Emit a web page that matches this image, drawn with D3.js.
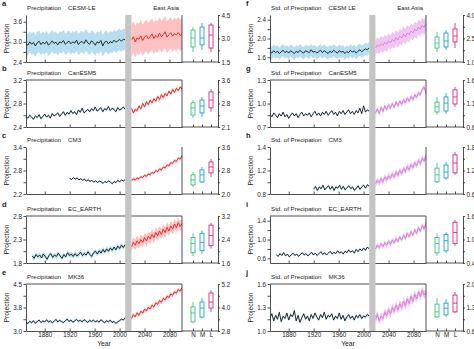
<!DOCTYPE html>
<html>
<head>
<meta charset="utf-8">
<script src="https://cdn.jsdelivr.net/npm/d3@7"></script>
<style>
body { margin: 0; background: #fff; }
svg text { font-family: "Liberation Sans", Arial, sans-serif; fill: #222; }
.axis text { font-size: 6.3px; }
.axis path, .axis line { stroke: #222; stroke-width: 0.8; }
</style>
</head>
<body>
<svg id="chart" width="474" height="349"></svg>
<script>
// ---- data ----
var yearTicks = [1880, 1920, 1960, 2000, 2040, 2080];
var boxCats = ["N", "M", "L"];
var lettersP = ["a", "b", "c", "d", "e"];
var lettersS = ["f", "g", "h", "i", "j"];
var modelsP = ["CESM-LE", "CanESM5", "CM3", "EC_EARTH", "MK36"];
var modelsS = ["CESM LE", "CanESM5", "CM3", "EC_EARTH", "MK36"];
var histStart = [1850, 1850, 1920, 1860, 1850];
var histEnd = 2009, futStart = 2019, futEnd = 2100, gapYears = [2009, 2019];

var histP = [
  [2.95,2.90,3.00,2.93,2.98,2.88,2.97,3.02,2.92,2.99,2.94,3.01,2.90,2.96,3.03,2.95,2.99,2.91,3.00,2.97,3.04,2.93,2.98,3.02,2.94,3.00,2.96,3.05,2.92,2.99,3.01,2.95,3.06,2.97,2.93,3.03,2.98,2.90,3.00,2.96,3.04,2.88,2.99,3.02,2.94,3.01,2.97,3.05,2.99,3.03,3.07,3.02,3.08,3.06],
  [2.58,2.55,2.60,2.57,2.53,2.59,2.56,2.61,2.54,2.58,2.62,2.57,2.60,2.55,2.63,2.59,2.61,2.64,2.58,2.62,2.66,2.60,2.65,2.62,2.68,2.63,2.66,2.61,2.69,2.65,2.72,2.64,2.67,2.70,2.66,2.71,2.68,2.74,2.67,2.70,2.73,2.66,2.71,2.69,2.75,2.68,2.72,2.70,2.66,2.73,2.69,2.71,2.74,2.70],
  [2.60,2.57,2.62,2.58,2.61,2.56,2.59,2.55,2.58,2.53,2.56,2.52,2.55,2.50,2.54,2.49,2.53,2.51,2.47,2.52,2.49,2.54,2.50,2.46,2.52,2.49,2.55,2.51,2.56,2.53,2.57],
  [1.95,1.90,1.98,1.93,1.97,1.91,1.99,1.94,1.88,1.96,2.00,1.92,1.97,1.94,2.01,1.95,1.90,1.98,1.93,2.02,1.96,1.99,1.94,2.00,1.95,1.98,2.03,1.96,2.00,1.97,2.04,1.98,1.94,2.02,2.05,1.99,2.06,2.01,2.09,2.03,2.10,2.05,2.12,2.07,2.14,2.08,2.16,2.11,2.18,2.13,2.19],
  [3.28,3.24,3.31,3.26,3.33,3.25,3.30,3.35,3.27,3.32,3.29,3.36,3.28,3.33,3.26,3.31,3.37,3.29,3.34,3.30,3.27,3.33,3.38,3.30,3.35,3.28,3.32,3.37,3.31,3.34,3.29,3.36,3.32,3.27,3.34,3.30,3.35,3.29,3.33,3.28,3.36,3.31,3.26,3.33,3.29,3.35,3.27,3.31,3.24,3.29,3.33,3.38,3.35,3.42]
];
var futP = [
  [3.05,3.15,3.00,3.12,3.08,3.18,3.04,3.14,3.20,3.09,3.16,3.24,3.10,3.19,3.13,3.26,3.15,3.22,3.30,3.14,3.21,3.27,3.17,3.25,3.20,3.28,3.19,3.24],
  [2.72,2.64,2.70,2.68,2.76,2.71,2.80,2.74,2.83,2.78,2.86,2.81,2.88,2.84,2.92,2.87,2.95,2.90,2.97,2.93,3.01,2.96,3.04,2.99,3.06,3.02,3.08,3.05],
  [2.55,2.58,2.56,2.61,2.59,2.64,2.62,2.68,2.65,2.71,2.69,2.75,2.73,2.80,2.77,2.84,2.82,2.89,2.87,2.94,2.92,3.00,2.98,3.06,3.03,3.12,3.09,3.18],
  [2.15,2.24,2.18,2.27,2.21,2.30,2.24,2.34,2.27,2.37,2.31,2.41,2.34,2.45,2.38,2.48,2.41,2.52,2.45,2.56,2.48,2.59,2.52,2.63,2.55,2.66,2.58,2.64],
  [3.40,3.52,3.45,3.58,3.50,3.63,3.57,3.70,3.64,3.76,3.70,3.83,3.77,3.90,3.85,3.97,3.92,4.04,3.99,4.11,4.07,4.18,4.14,4.25,4.21,4.32,4.28,4.38]
];
var histS = [
  [1.72,1.69,1.74,1.70,1.73,1.68,1.72,1.75,1.70,1.73,1.69,1.74,1.71,1.68,1.73,1.70,1.75,1.71,1.69,1.74,1.72,1.70,1.76,1.71,1.73,1.69,1.72,1.75,1.70,1.74,1.71,1.68,1.73,1.70,1.75,1.72,1.69,1.74,1.71,1.73,1.68,1.72,1.70,1.75,1.71,1.74,1.69,1.73,1.76,1.72,1.75,1.78,1.76,1.80],
  [0.86,0.83,0.88,0.85,0.82,0.87,0.84,0.89,0.83,0.86,0.81,0.85,0.88,0.84,0.87,0.82,0.86,0.89,0.84,0.87,0.85,0.88,0.83,0.87,0.90,0.85,0.88,0.84,0.89,0.86,0.90,0.85,0.88,0.91,0.86,0.89,0.84,0.90,0.87,0.91,0.86,0.89,0.92,0.87,0.90,0.86,0.91,0.88,0.94,0.87,0.97,0.89,0.92,0.90],
  [0.88,0.93,0.86,0.92,0.89,0.95,0.87,0.91,0.94,0.88,0.93,0.86,0.92,0.90,0.95,0.88,0.93,0.87,0.91,0.94,0.89,0.92,0.86,0.90,0.94,0.88,0.92,0.95,0.90,0.96,0.93],
  [0.68,0.64,0.70,0.66,0.72,0.65,0.69,0.63,0.67,0.71,0.66,0.69,0.64,0.68,0.72,0.67,0.70,0.65,0.69,0.73,0.67,0.71,0.66,0.70,0.74,0.68,0.72,0.67,0.71,0.75,0.69,0.73,0.70,0.76,0.71,0.74,0.69,0.75,0.72,0.78,0.73,0.76,0.71,0.79,0.74,0.80,0.76,0.82,0.77,0.84,0.80],
  [1.17,1.22,1.13,1.20,1.15,1.24,1.12,1.19,1.16,1.23,1.14,1.21,1.18,1.26,1.13,1.20,1.11,1.17,1.22,1.15,1.19,1.13,1.21,1.16,1.23,1.18,1.14,1.21,1.17,1.24,1.15,1.20,1.18,1.22,1.14,1.19,1.16,1.23,1.15,1.20,1.13,1.18,1.21,1.16,1.19,1.14,1.20,1.17,1.21,1.16,1.19,1.18,1.21,1.19]
];
var futS = [
  [1.80,1.86,1.83,1.89,1.85,1.92,1.88,1.95,1.91,1.98,1.94,2.02,1.97,2.05,2.01,2.09,2.04,2.12,2.08,2.16,2.12,2.20,2.16,2.24,2.20,2.28,2.24,2.32],
  [0.88,0.93,0.87,0.95,0.90,0.97,0.92,0.98,0.94,1.00,0.95,1.02,0.97,1.03,0.99,1.05,1.01,1.07,1.03,1.09,1.05,1.11,1.08,1.14,1.11,1.18,1.21,1.13],
  [0.97,1.03,0.99,1.06,1.01,1.09,1.04,1.11,1.07,1.14,1.09,1.17,1.12,1.20,1.15,1.23,1.18,1.27,1.21,1.30,1.25,1.33,1.28,1.37,1.32,1.41,1.36,1.45],
  [0.80,0.88,0.83,0.91,0.85,0.93,0.88,0.96,0.90,0.99,0.93,1.02,0.96,1.05,0.99,1.09,1.02,1.13,1.06,1.17,1.09,1.21,1.13,1.26,1.17,1.31,1.22,1.36],
  [1.15,1.21,1.13,1.19,1.16,1.24,1.20,1.27,1.22,1.30,1.25,1.33,1.27,1.35,1.30,1.38,1.32,1.41,1.35,1.44,1.38,1.47,1.41,1.50,1.44,1.52,1.46,1.49]
];
// ensemble spread (half width) for historical / future
var spreadP = [[0.32, 0.47], [0.02, 0.03], [0.02, 0.04], [0.05, 0.11], [0.04, 0.06]];
var spreadS = [[0.13, 0.16], [0.01, 0.03], [0.02, 0.05], [0.02, 0.05], [0.02, 0.05]];

var yDomP = [[2.4, 3.8], [2.4, 3.2], [2.2, 3.4], [1.8, 2.8], [3.0, 4.5]];
var yTickP = [[2.4, 3.0, 3.6], [2.4, 2.8, 3.2], [2.2, 2.8, 3.4], [1.8, 2.3, 2.8], [3.0, 3.75, 4.5]];
var yLabP = [["2.4", "3.0", "3.6"], ["2.4", "2.8", "3.2"], ["2.2", "2.8", "3.4"], ["1.8", "2.3", "2.8"], ["3.0", "3.8", "4.5"]];
var yDomS = [[1.5, 2.5], [0.7, 1.3], [0.8, 1.6], [0.5, 1.5], [1.0, 1.6]];
var yTickS = [[1.6, 2.0, 2.4], [0.7, 1.0, 1.3], [0.8, 1.2, 1.6], [0.6, 1.0, 1.4], [1.0, 1.3, 1.6]];
var yLabS = [["1.6", "2.0", "2.4"], ["0.7", "1.0", "1.3"], ["0.8", "1.2", "1.4"], ["0.6", "1.0", "1.4"], ["1.0", "1.3", "1.6"]];

var rDomP = [[1.5, 4.5], [2.1, 3.6], [2.0, 3.6], [1.6, 3.2], [2.8, 5.2]];
var rLabP = [["1.5", "3.0", "4.5"], ["2.1", "2.8", "3.6"], ["2.0", "2.8", "3.6"], ["1.6", "2.4", "3.2"], ["2.8", "4.0", "5.2"]];
var rDomS = [[1.0, 4.0], [0.6, 1.6], [0.6, 1.8], [0.4, 1.6], [0.6, 2.0]];
var rLabS = [["1.0", "2.5", "4.0"], ["0.6", "1.1", "1.6"], ["0.6", "1.2", "1.8"], ["0.4", "1.0", "1.6"], ["0.6", "1.3", "2.0"]];

// boxes per panel, order N, M, L: [whisker low, q1, median, q3, whisker high]
var boxP = [
  [[2.14, 2.46, 3.03, 3.54, 3.73], [2.27, 2.59, 3.03, 3.73, 3.99], [2.14, 2.39, 3.22, 3.86, 3.99]],
  [[2.39, 2.48, 2.71, 2.87, 2.96], [2.42, 2.55, 2.77, 2.96, 3.06], [2.58, 2.71, 2.96, 3.22, 3.31]],
  [[2.24, 2.31, 2.48, 2.65, 2.75], [2.38, 2.41, 2.65, 2.82, 2.92], [2.58, 2.72, 2.92, 3.09, 3.19]],
  [[1.84, 1.95, 2.26, 2.47, 2.61], [1.91, 2.02, 2.30, 2.61, 2.71], [2.09, 2.19, 2.54, 2.89, 2.96]],
  [[3.21, 3.26, 3.72, 4.03, 4.28], [3.46, 3.51, 3.97, 4.28, 4.48], [3.77, 3.97, 4.28, 4.74, 4.89]]
];
var boxS = [
  [[1.64, 1.89, 2.21, 2.60, 2.91], [1.77, 1.96, 2.34, 2.85, 3.04], [1.89, 2.28, 2.66, 3.11, 3.49]],
  [[0.86, 0.92, 1.03, 1.13, 1.24], [0.88, 0.94, 1.11, 1.24, 1.32], [1.03, 1.09, 1.24, 1.39, 1.45]],
  [[0.88, 0.91, 1.09, 1.26, 1.39], [0.96, 1.01, 1.16, 1.34, 1.42], [1.09, 1.14, 1.39, 1.60, 1.67]],
  [[0.58, 0.66, 0.90, 1.05, 1.16], [0.66, 0.71, 0.97, 1.13, 1.18], [0.84, 0.90, 1.18, 1.44, 1.50]],
  [[0.99, 1.02, 1.17, 1.40, 1.58], [1.02, 1.08, 1.28, 1.43, 1.55], [1.14, 1.17, 1.43, 1.67, 1.76]]
];

// ---- layout ----
var svg = d3.select("#chart");
var cols = [{x0: 26, x1: 182, x2: 218}, {x0: 270, x1: 426, x2: 463}];
var tops = [15, 80, 147, 216, 284], ph = 47;
var framed = ["b", "d", "e", "g", "i", "j"];
var boxColor = {N: "#3cc47c", M: "#1f9fe0", L: "#e0287f"};

var sets = [
  {title: "Precipitation", names: modelsP, letters: lettersP, hist: histP, fut: futP, spread: spreadP,
   yDom: yDomP, yTick: yTickP, yLab: yLabP, rDom: rDomP, rLab: rLabP, boxes: boxP,
   line: "#f01818", band: "#ffc2c2"},
  {title: "Std. of Precipation", names: modelsS, letters: lettersS, hist: histS, fut: futS, spread: spreadS,
   yDom: yDomS, yTick: yTickS, yLab: yLabS, rDom: rDomS, rLab: rLabS, boxes: boxS,
   line: "#d47ad6", band: "#efc6f1"}
];

sets.forEach(function(s, c) {
  var col = cols[c];
  var x = d3.scaleLinear().domain([1850, 2100]).range([col.x0, col.x1]);
  var bx = d3.scalePoint().domain(boxCats).range([col.x1 + 11, col.x1 + 29]);

  s.names.forEach(function(name, i) {
    var top = tops[i], bot = top + ph, last = i === s.names.length - 1;
    var y = d3.scaleLinear().domain(s.yDom[i]).range([bot, top]);
    var yr = d3.scaleLinear().domain(s.rDom[i]).range([bot, top]);
    var g = svg.append("g");
    var clipId = "clip" + s.letters[i];
    g.append("clipPath").attr("id", clipId).append("rect")
      .attr("x", col.x0).attr("y", top).attr("width", col.x1 - col.x0).attr("height", ph);

    function series(vals, t0, t1) {
      return vals.map(function(v, k) {
        return {t: t0 + k * (t1 - t0) / (vals.length - 1), v: v};
      });
    }
    var hist = series(s.hist[i], histStart[i], histEnd);
    var fut = series(s.fut[i], futStart, futEnd);

    var band = function(sp) {
      return d3.area().x(function(d) { return x(d.t); })
        .y0(function(d) { return y(d.v - sp); })
        .y1(function(d) { return y(d.v + sp); });
    };
    var line = d3.line().x(function(d) { return x(d.t); }).y(function(d) { return y(d.v); });

    var data = g.append("g").attr("clip-path", "url(#" + clipId + ")");
    data.append("path").attr("d", band(s.spread[i][0])(hist)).attr("fill", "#b6def0");
    data.append("path").attr("d", band(s.spread[i][1])(fut)).attr("fill", s.band);
    data.append("path").attr("d", line(hist)).attr("fill", "none").attr("stroke", "#151515").attr("stroke-width", 0.9);
    data.append("path").attr("d", line(fut)).attr("fill", "none").attr("stroke", s.line).attr("stroke-width", 0.9);

    // left axis with minor ticks between labelled ones
    var major = s.yTick[i];
    var minor = d3.pairs(major).map(function(p) { return (p[0] + p[1]) / 2; });
    g.append("g").attr("class", "axis").attr("transform", "translate(" + col.x0 + ",0)")
      .call(d3.axisLeft(y).tickValues(major.concat(minor)).tickSizeInner(2.5).tickSizeOuter(0).tickPadding(1.5)
        .tickFormat(function(d) { var k = major.indexOf(d); return k < 0 ? "" : s.yLab[i][k]; }));

    // bottom axis (time)
    g.append("g").attr("class", "axis").attr("transform", "translate(0," + bot + ")")
      .call(d3.axisBottom(x).tickValues(yearTicks).tickSizeInner(-2.5).tickSizeOuter(0).tickPadding(2)
        .tickFormat(last ? d3.format("d") : ""));

    // box panel bottom axis
    g.append("g").attr("class", "axis").attr("transform", "translate(0," + bot + ")")
      .call(d3.axisBottom(bx).tickSizeInner(-2.5).tickSizeOuter(0).tickPadding(2)
        .tickFormat(last ? null : ""))
      .select(".domain").attr("d", "M" + col.x1 + ",0H" + col.x2);

    // right axis of box panel
    var rd = s.rDom[i];
    var rMajor = [rd[0], (rd[0] + rd[1]) / 2, rd[1]];
    var rMinor = d3.pairs(rMajor).map(function(p) { return (p[0] + p[1]) / 2; });
    g.append("g").attr("class", "axis").attr("transform", "translate(" + col.x2 + ",0)")
      .call(d3.axisRight(yr).tickValues(rMajor.concat(rMinor)).tickSizeInner(2).tickSizeOuter(0).tickPadding(1.5)
        .tickFormat(function(d) { var k = rMajor.indexOf(d); return k < 0 ? "" : s.rLab[i][k]; }));

    // plot frame: right edge and optional top edge
    g.append("line").attr("x1", col.x1).attr("x2", col.x1).attr("y1", top).attr("y2", bot)
      .attr("stroke", "#222").attr("stroke-width", 0.8);
    if (framed.indexOf(s.letters[i]) >= 0) {
      g.append("line").attr("x1", col.x0).attr("x2", col.x1).attr("y1", top).attr("y2", top)
        .attr("stroke", "#222").attr("stroke-width", 0.8);
    }

    // boxes
    var bw = 4;
    s.boxes[i].forEach(function(b, k) {
      var cat = boxCats[k], cx = bx(cat);
      var bg = g.append("g").attr("stroke", boxColor[cat]).attr("stroke-width", 0.9).attr("fill", "none");
      bg.append("line").attr("x1", cx).attr("x2", cx).attr("y1", yr(b[0])).attr("y2", yr(b[4]));
      bg.append("rect").attr("x", cx - bw / 2).attr("y", yr(b[3]))
        .attr("width", bw).attr("height", yr(b[1]) - yr(b[3])).attr("fill", "#fff");
      bg.append("line").attr("x1", cx - bw / 2).attr("x2", cx + bw / 2).attr("y1", yr(b[2])).attr("y2", yr(b[2]));
    });

    // texts
    g.append("text").attr("x", col.x0 - 24).attr("y", top - 9)
      .attr("font-size", 7.5).attr("font-weight", "bold").text(s.letters[i]);
    var tt = g.append("text").attr("x", col.x0 + 1).attr("y", top - 5).attr("font-size", 6.2).text(s.title);
    g.append("text").attr("x", col.x0 + 1 + tt.node().getComputedTextLength() + 7).attr("y", top - 5)
      .attr("font-size", 6.2).text(name);
    if (i === 0) {
      g.append("text").attr("x", col.x1 - 3).attr("y", top - 5).attr("text-anchor", "end")
        .attr("font-size", 6.2).text("East Asia");
    }
    g.append("text").attr("transform", "translate(" + (col.x0 - 17) + "," + (top + ph / 2) + ") rotate(-90)")
      .attr("text-anchor", "middle").attr("font-size", 6.8).text("Projection");
    if (last) {
      g.append("text").attr("x", (col.x0 + col.x1) / 2).attr("y", bot + 15)
        .attr("text-anchor", "middle").attr("font-size", 6.8).text("Year");
    }
  });

  // grey bar separating historical and future runs
  svg.append("rect").attr("x", x(gapYears[0])).attr("width", x(gapYears[1]) - x(gapYears[0]))
    .attr("y", tops[0]).attr("height", tops[tops.length - 1] + ph - tops[0])
    .attr("fill", "#c4c4c4");
});
</script>
</body>
</html>
